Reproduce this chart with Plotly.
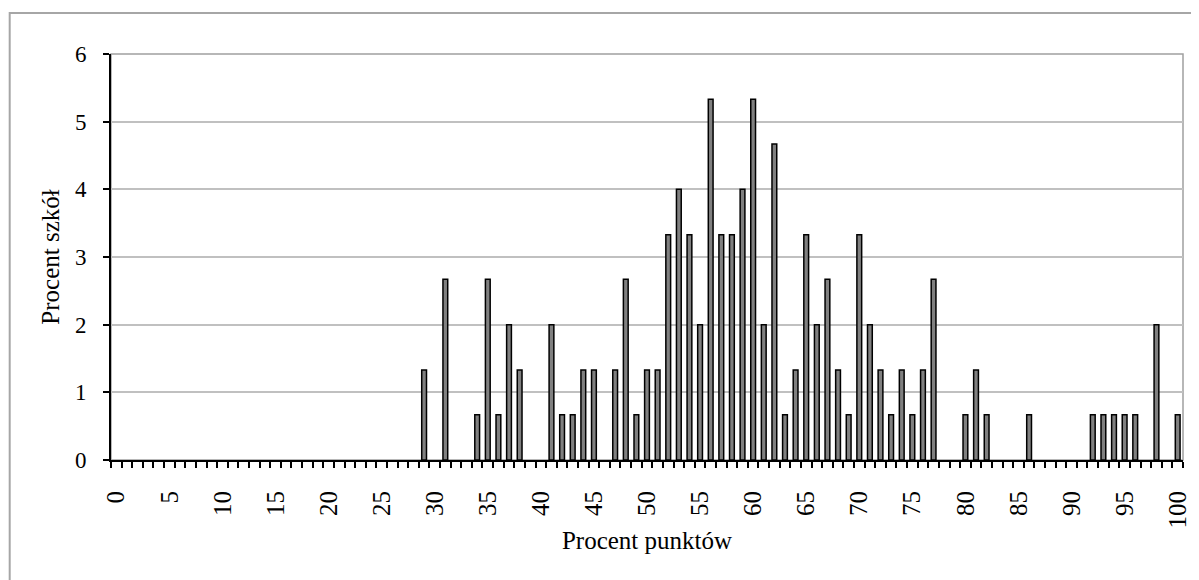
import plotly.graph_objects as go

# score (% of points) and share of schools (%) for every non-empty score
scores = [29, 31, 34, 35, 36, 37, 38, 41, 42, 43, 44, 45, 47, 48, 49, 50, 51,
          52, 53, 54, 55, 56, 57, 58, 59, 60, 61, 62, 63, 64, 65, 66, 67, 68,
          69, 70, 71, 72, 73, 74, 75, 76, 77, 80, 81, 82, 86, 92, 93, 94, 95,
          96, 98, 100]
share = [1.33, 2.67, 0.67, 2.67, 0.67, 2.00, 1.33, 2.00, 0.67, 0.67, 1.33,
         1.33, 1.33, 2.67, 0.67, 1.33, 1.33, 3.33, 4.00, 3.33, 2.00, 5.33,
         3.33, 3.33, 4.00, 5.33, 2.00, 4.67, 0.67, 1.33, 3.33, 2.00, 2.67,
         1.33, 0.67, 3.33, 2.00, 1.33, 0.67, 1.33, 0.67, 1.33, 2.67, 0.67,
         1.33, 0.67, 0.67, 0.67, 0.67, 0.67, 0.67, 0.67, 2.00, 0.67]
x_ticks = list(range(0, 101, 5))
y_ticks = [0, 1, 2, 3, 4, 5, 6]

FONT = "Liberation Serif"

fig = go.Figure(go.Bar(
    x=scores,
    y=share,
    width=0.45,
    marker=dict(color="#808080", line=dict(color="black", width=1.5)),
    showlegend=False,
))

# the page body adds an 8px offset, so the margins are trimmed by that much
fig.update_layout(
    width=1191,
    height=572,
    margin=dict(l=103, r=8, t=46, b=120),
    paper_bgcolor="white",
    plot_bgcolor="white",
    font=dict(family=FONT, size=24, color="black"),
    xaxis=dict(
        range=[-0.5, 100.5],
        tickmode="array",
        tickvals=x_ticks,
        ticktext=[str(v) for v in x_ticks],
        tickangle=-90,
        tickfont=dict(size=25),
        ticks="",
        ticklabelstandoff=19,
        showgrid=False,
        zeroline=False,
        showline=True,
        linecolor="black",
        linewidth=2,
        minor=dict(ticks="outside", tickmode="linear", tick0=0.5, dtick=1,
                   ticklen=6, tickwidth=1.5, tickcolor="black", showgrid=False),
        title=dict(text="Procent punktów", font=dict(size=25), standoff=4),
    ),
    yaxis=dict(
        range=[0, 6],
        tickmode="array",
        tickvals=y_ticks,
        tickfont=dict(size=23),
        ticks="outside",
        ticklen=6,
        tickwidth=1.5,
        tickcolor="black",
        ticklabelstandoff=12,
        showgrid=True,
        gridcolor="#c0c0c0",
        gridwidth=1.5,
        zeroline=False,
        showline=True,
        linecolor="black",
        linewidth=2,
        title=dict(text="Procent szkół", font=dict(size=25), standoff=8),
    ),
    shapes=[
        # plot area frame (top and right edges grey)
        dict(type="rect", xref="paper", yref="paper", x0=0, y0=0, x1=1, y1=1,
             line=dict(color="#a0a0a0", width=1.5), layer="below"),
        # outer chart border
        dict(type="rect", xref="paper", yref="paper",
             x0=-0.0945, y0=-0.31, x1=1.02, y1=1.101,
             line=dict(color="#a6a6a6", width=2)),
    ],
)

fig.write_html("out.html")
